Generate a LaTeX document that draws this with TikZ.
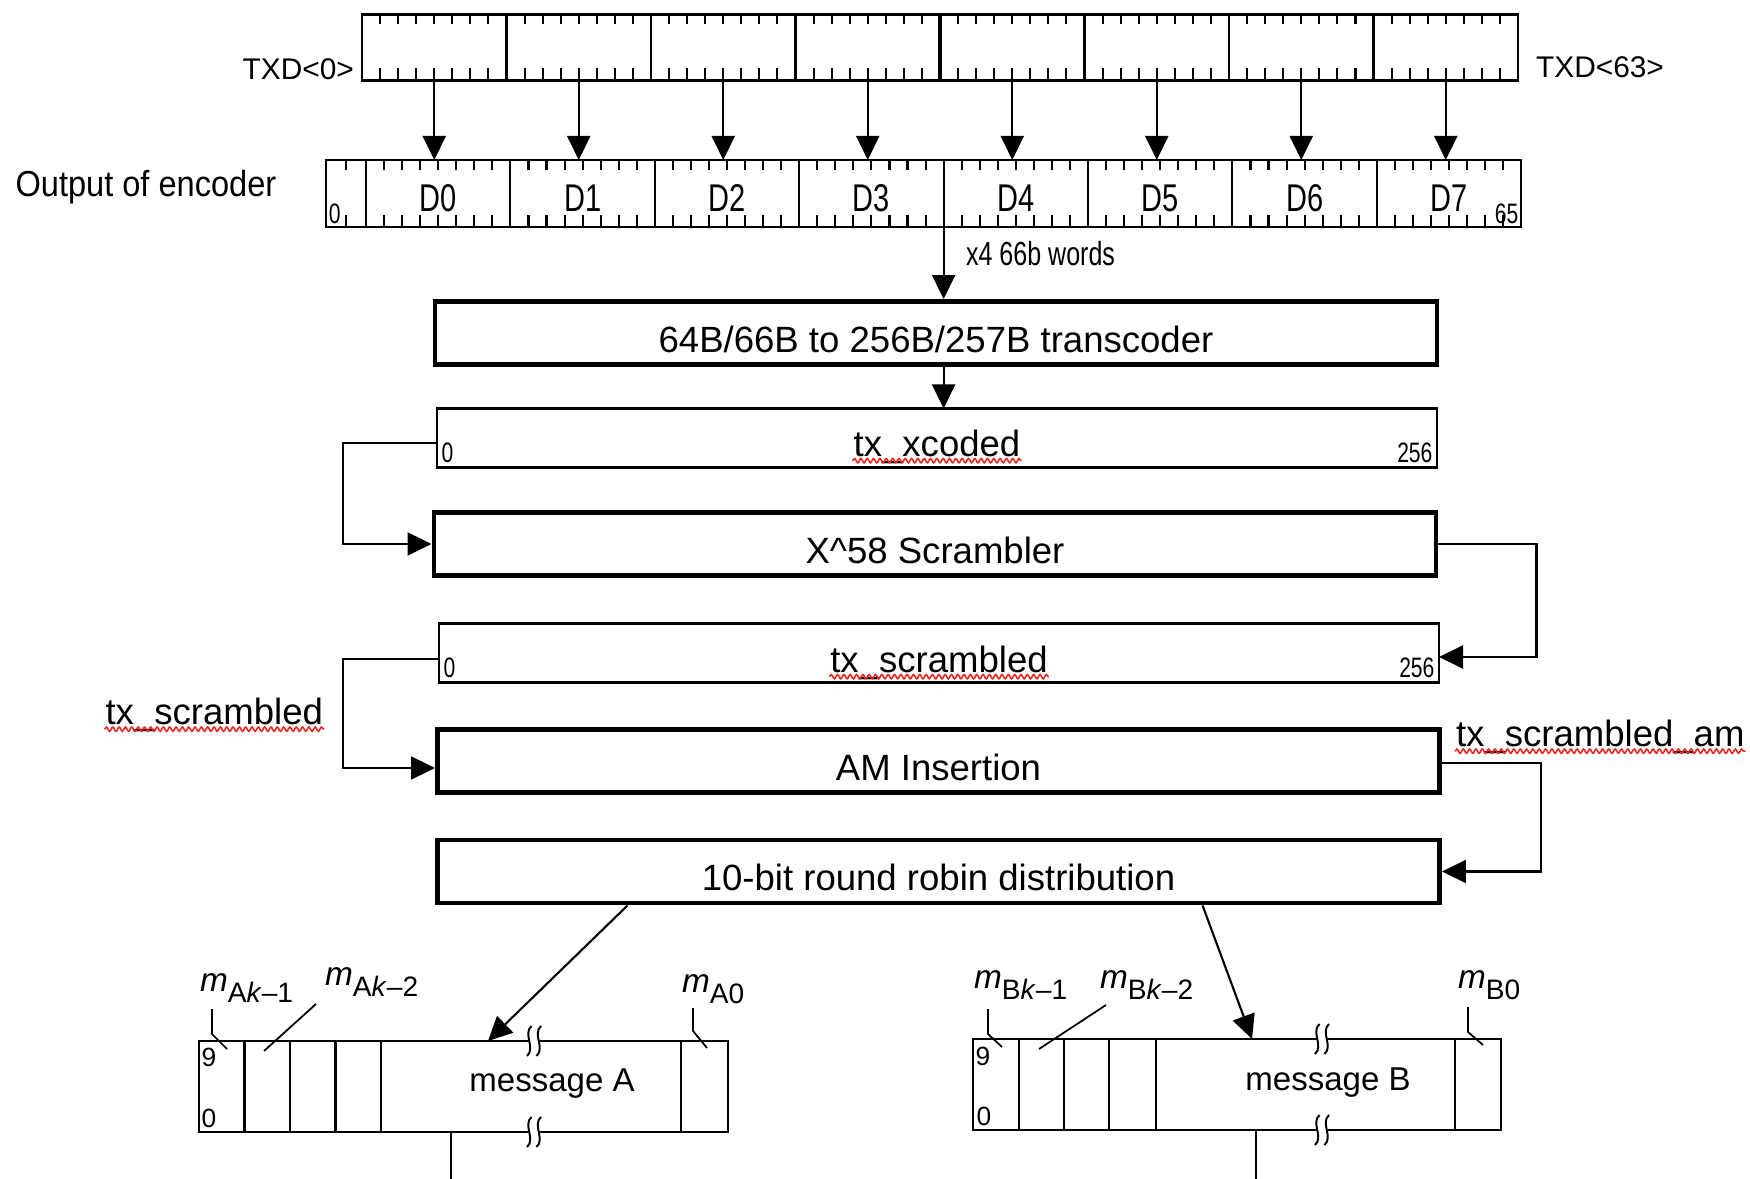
\documentclass[tikz,border=0pt]{standalone}
\usepackage{fontspec}
\setmainfont{Liberation Sans}
\newfontfamily\narrowfont[FakeStretch=0.9]{Liberation Sans}
\newfontfamily\condfont[FakeStretch=0.75]{Liberation Sans}
\usetikzlibrary{arrows.meta,positioning,calc,decorations.pathmorphing}
\definecolor{spellred}{HTML}{E8261E}

\begin{document}
\begin{tikzpicture}[
  >={Triangle[length=0.24cm,width=0.23cm]},
  line width=0.6pt,
  seg/.style={draw, minimum width=1.445cm, minimum height=0.66cm, inner sep=0pt, outer sep=0pt},
  dseg/.style={draw, minimum width=1.444cm, minimum height=0.67cm, inner sep=0pt, outer sep=0pt, text height=10pt, text depth=0pt, font=\condfont\fontsize{11}{11}\selectfont},
  blk/.style={draw, line width=1.4pt, minimum width=10.02cm, minimum height=0.63cm, inner sep=0pt, text height=11pt, text depth=0pt, font=\fontsize{10.4}{12}\selectfont},
  buf/.style={draw, minimum width=10.0cm, minimum height=0.59cm, inner sep=0pt, outer sep=0pt},
  lbl/.style={inner sep=0pt, font=\fontsize{10.4}{12}\selectfont},
  idx/.style={inner sep=1pt, font=\condfont\fontsize{8}{8}\selectfont},
  digit/.style={inner sep=0pt, font=\fontsize{7.5}{8}\selectfont},
  mlbl/.style={inner sep=0pt, font=\fontsize{9.5}{10}\selectfont},
  reg/.style={draw, minimum height=0.91cm, inner sep=0pt, outer sep=0pt},
  arr/.style={->},
  spell/.style={draw=spellred, line width=0.45pt, decorate, decoration={snake, amplitude=0.6pt, segment length=1.8pt}},
  brk/.pic={
    \fill[white] (-0.05,-0.03) rectangle (0.05,0.03);
    \draw[line width=0.55pt] (-0.025,0.15) .. controls (-0.115,0.07) and (0.02,-0.07) .. (-0.07,-0.15);
    \draw[line width=0.55pt] (0.07,0.15) .. controls (-0.02,0.07) and (0.115,-0.07) .. (0.025,-0.15);
  },
]
\useasboundingbox (0,0) rectangle (17.5,-11.79);

% TXD<0..63>
\foreach \i in {0,...,7}
  \node[seg] (t\i) at ({4.3425+1.445*\i}, -0.475) {};
\foreach \i in {0,...,7}
  \foreach \j in {1,...,7} {
    \draw ([xshift={\j*0.1806cm}]t\i.north west) -- ++(0,-0.1);
    \draw ([xshift={\j*0.1806cm}]t\i.south west) -- ++(0,0.12);
  }
\draw[line width=1.3pt] (t3.north east) -- (t3.south east);
\node[inner sep=0pt, anchor=east, font=\fontsize{8.5}{10}\selectfont] (txd0) at (3.55,-0.69) {TXD<0>};
\node[inner sep=0pt, anchor=west, font=\fontsize{8.5}{10}\selectfont] (txd63) at (15.35,-0.67) {TXD<63>};

% encoder output
\node[draw, minimum width=0.40cm, minimum height=0.67cm, inner sep=0pt, outer sep=0pt] (enc) at (3.46,-1.935) {};
\draw (enc.north) -- ++(0,-0.1);
\draw (enc.south) -- ++(0,0.12);
\foreach \i in {0,...,7}
  \node[dseg] (d\i) at ({4.382+1.444*\i}, -1.935) {D\i};
\foreach \i in {0,...,7}
  \foreach \j in {1,...,7} {
    \draw ([xshift={\j*0.1805cm}]d\i.north west) -- ++(0,-0.1);
    \draw ([xshift={\j*0.1805cm}]d\i.south west) -- ++(0,0.12);
  }
\node[idx, anchor=south west, inner sep=0.5pt] (enc0) at (enc.south west) {0};
\node[idx, anchor=south east, inner sep=0.5pt] (enc65) at (d7.south east) {65};
\node[inner sep=0pt, anchor=west, font=\narrowfont\fontsize{10.3}{12}\selectfont] (outlbl) at (0.145,-1.87) {Output of encoder};

\foreach \i in {0,...,7}
  \draw[arr] (t\i.south) -- (t\i.south |- d\i.north);

% transcoder
\node[blk] (xcode) at (9.36,-3.33) {64B/66B to 256B/257B transcoder};
\draw[arr] (d4.south west) -- (d4.south west |- xcode.north);
\node[inner sep=0pt, anchor=west, font=\condfont\fontsize{9.5}{10}\selectfont] (words) at (9.65,-2.54) {x4 66b words};

\node[buf] (xcoded) at (9.37,-4.38) {};
\node[lbl] (xcodedtxt) at (9.37,-4.465) {tx\_xcoded};
\node[idx, anchor=south west] (xc0) at (xcoded.south west) {0};
\node[idx, anchor=south east] (xc256) at (xcoded.south east) {256};
\draw[arr] (d4.south west |- xcode.south) -- (d4.south west |- xcoded.north);

% scrambler
\node[blk] (scr) at (9.35,-5.44) {X\textasciicircum 58 Scrambler};
\draw[arr] ([yshift=-0.05cm]xcoded.west) -- ++(-0.94,0) |- (scr.west);

\node[buf] (scrd) at (9.39,-6.53) {};
\node[lbl] (scrdtxt) at (9.39,-6.625) {tx\_scrambled};
\node[idx, anchor=south west] (sc0) at (scrd.south west) {0};
\node[idx, anchor=south east] (sc256) at (scrd.south east) {256};
\draw[arr] (scr.east) -- ++(0.98,0) |- ([yshift=-0.04cm]scrd.east);

% AM insertion
\node[blk] (ami) at (9.385,-7.61) {AM Insertion};
\draw[arr] ([yshift=-0.06cm]scrd.west) -- ++(-0.96,0) |- ([yshift=-0.07cm]ami.west);
\node[lbl, anchor=east] (scrlbl) at (3.24,-7.15) {tx\_scrambled};

\node[blk] (dist) at (9.385,-8.715) {10-bit round robin distribution};
\draw[arr] ([yshift=-0.02cm]ami.east) -- ++(0.99,0) |- (dist.east);
\node[lbl, anchor=west] (amlbl) at (14.55,-7.37) {tx\_scrambled\_am};

\draw[spell] ([yshift=-1.3pt]xcodedtxt.base west) -- ([yshift=-1.3pt]xcodedtxt.base east);
\draw[spell] ([yshift=-1.3pt]scrdtxt.base west) -- ([yshift=-1.3pt]scrdtxt.base east);
\draw[spell] ([yshift=-1.3pt]scrlbl.base west) -- ([yshift=-1.3pt]scrlbl.base east);
\draw[spell] ([yshift=-1.3pt]amlbl.base west) -- ([yshift=-1.3pt]amlbl.base east);

% message A
\node[reg, minimum width=5.29cm] (regA) at (4.635,-10.865) {};
\foreach \x in {0.455,0.91,1.365,1.82,4.82}
  \draw ([xshift=\x cm]regA.north west) -- ([xshift=\x cm]regA.south west);
\node[font=\fontsize{9.4}{10}\selectfont, inner sep=0pt] (msgA) at (5.52,-10.84) {message A};
\node[digit] (a9) at (2.09,-10.57) {9};
\node[digit] (a0) at (2.09,-11.18) {0};
\pic at ([xshift=3.35cm]regA.north west) {brk};
\pic at ([xshift=3.35cm]regA.south west) {brk};
\coordinate (outA) at (4.51,-11.79);
\draw (regA.south -| outA) -- (outA);
\draw[arr] ([xshift=1.925cm]dist.south west) -- ([xshift=2.89cm]regA.north west);

\node[mlbl, anchor=west] (mA1) at (1.99,-9.88) {\textit{m}\raisebox{-0.6ex}{\fontsize{8}{8}\selectfont A\textit{k}–1}};
\node[mlbl, anchor=west] (mA2) at (3.24,-9.82) {\textit{m}\raisebox{-0.6ex}{\fontsize{8}{8}\selectfont A\textit{k}–2}};
\node[mlbl, anchor=west] (mA0) at (6.81,-9.89) {\textit{m}\raisebox{-0.6ex}{\fontsize{8}{8}\selectfont A0}};
\draw[line width=0.5pt] (2.12,-10.09) -- (2.12,-10.34) -- (2.27,-10.49);
\draw[line width=0.5pt] (3.16,-10.04) -- (2.64,-10.51);
\draw[line width=0.5pt] (6.93,-10.08) -- (6.93,-10.31) -- (7.07,-10.48);

% message B
\node[reg, minimum width=5.28cm] (regB) at (12.37,-10.845) {};
\foreach \x in {0.46,0.91,1.36,1.83,4.82}
  \draw ([xshift=\x cm]regB.north west) -- ([xshift=\x cm]regB.south west);
\node[font=\fontsize{9.4}{10}\selectfont, inner sep=0pt] (msgB) at (13.28,-10.83) {message B};
\node[digit] (b9) at (9.83,-10.56) {9};
\node[digit] (b0) at (9.84,-11.16) {0};
\pic at ([xshift=3.49cm]regB.north west) {brk};
\pic at ([xshift=3.49cm]regB.south west) {brk};
\coordinate (outB) at (12.56,-11.79);
\draw (regB.south -| outB) -- (outB);
\draw[arr] ([xshift=7.675cm]dist.south west) -- ([xshift=2.79cm]regB.north west);

\node[mlbl, anchor=west] (mB1) at (9.73,-9.85) {\textit{m}\raisebox{-0.6ex}{\fontsize{8}{8}\selectfont B\textit{k}–1}};
\node[mlbl, anchor=west] (mB2) at (10.99,-9.85) {\textit{m}\raisebox{-0.6ex}{\fontsize{8}{8}\selectfont B\textit{k}–2}};
\node[mlbl, anchor=west] (mB0) at (14.57,-9.85) {\textit{m}\raisebox{-0.6ex}{\fontsize{8}{8}\selectfont B0}};
\draw[line width=0.5pt] (9.88,-10.09) -- (9.88,-10.34) -- (10.02,-10.47);
\draw[line width=0.5pt] (11.06,-10.05) -- (10.39,-10.49);
\draw[line width=0.5pt] (14.68,-10.07) -- (14.68,-10.32) -- (14.83,-10.45);

\end{tikzpicture}
\end{document}
